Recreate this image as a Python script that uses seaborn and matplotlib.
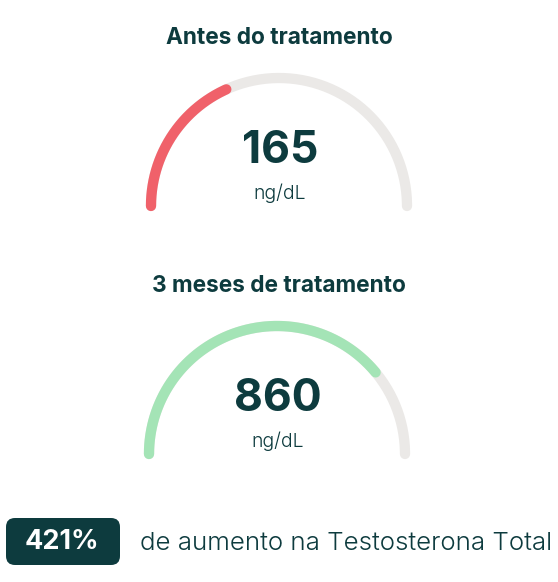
import numpy as np
import pandas as pd
import seaborn as sns
import matplotlib.pyplot as plt
from matplotlib.patches import FancyBboxPatch

# gauge data
titles = ["Antes do tratamento", "3 meses de tratamento"]
values = [165, 860]
units = ["ng/dL", "ng/dL"]
fill_fractions = [0.365, 0.78]   # share of the half circle that is filled
increase_label = "421%"
increase_text = "de aumento na Testosterona Total"

DARK = "#0d3b3e"
TRACK = "#ebe9e7"
FILLS = ["#f0616a", "#a4e4b6"]

sns.set_theme(style="white")
plt.rcParams['font.family'] = ['Inter', 'DejaVu Sans']

W, H = 558, 582
fig = plt.figure(figsize=(W / 100, H / 100), dpi=100)
ax = fig.add_axes([0, 0, 1, 1])
ax.set_xlim(0, W)
ax.set_ylim(H, 0)
ax.set_aspect('equal')
ax.axis('off')

# layout of each gauge (pixel space)
centers = [(279, 206), (277, 454)]
radius = 128
lw = 7.4


def arc_frame(cx, cy, r, frac):
    theta = np.linspace(np.pi, np.pi * (1 - frac), 200)
    return pd.DataFrame({"x": cx + r * np.cos(theta),
                         "y": cy - r * np.sin(theta)})


for i, (cx, cy) in enumerate(centers):
    track = arc_frame(cx, cy, radius, 1.0)
    sns.lineplot(data=track, x="x", y="y", sort=False, ax=ax, color=TRACK,
                 linewidth=lw, solid_capstyle='round')
    fill = arc_frame(cx, cy, radius, fill_fractions[i])
    sns.lineplot(data=fill, x="x", y="y", sort=False, ax=ax, color=FILLS[i],
                 linewidth=lw, solid_capstyle='round')

    ax.text(279, cy - 168, titles[i], ha='center', va='center',
            fontsize=16.3, fontweight='bold', color=DARK)
    ax.text(cx + 1, cy - 55, str(values[i]), ha='center', va='center',
            fontsize=32, fontweight='bold', color=DARK)
    ax.text(cx + 1, cy - 13, units[i], ha='center', va='center',
            fontsize=14, fontweight=300, color=DARK)

# badge with percent increase
badge = FancyBboxPatch((6, 518), 114, 47, boxstyle="round,pad=0,rounding_size=9",
                       facecolor=DARK, edgecolor='none')
ax.add_patch(badge)
ax.text(62, 542, increase_label, ha='center', va='center',
        fontsize=19.5, fontweight='bold', color='white')
ax.text(140, 543, increase_text, ha='left', va='center',
        fontsize=18.7, fontweight=300, color=DARK)

fig.savefig("out.png", dpi=100, facecolor='white')
